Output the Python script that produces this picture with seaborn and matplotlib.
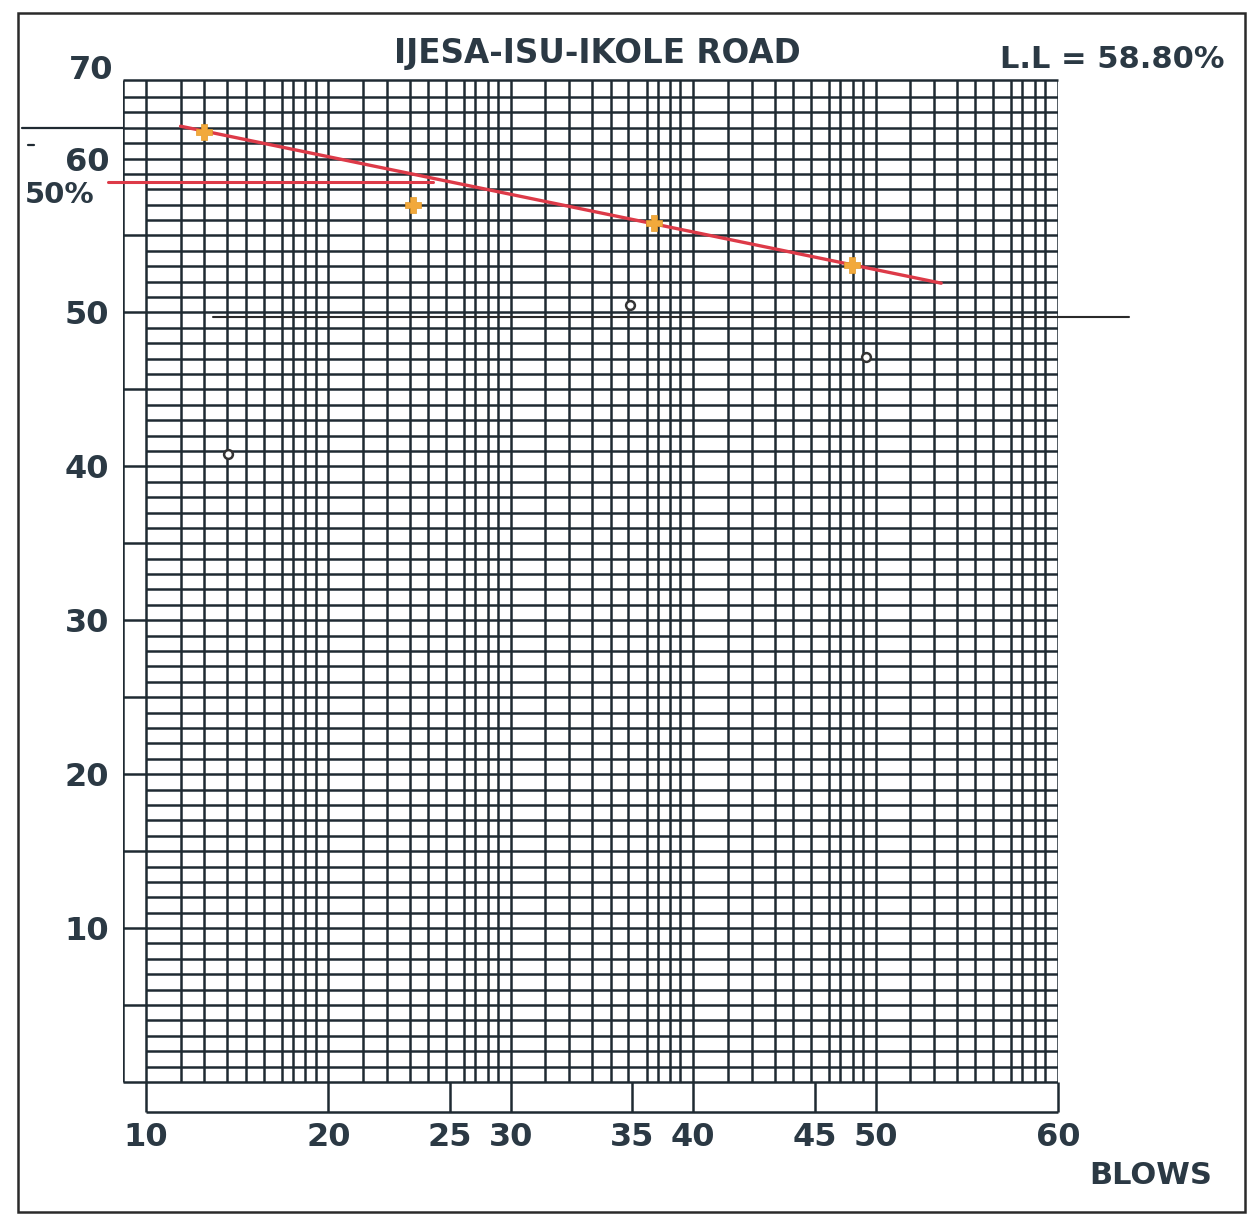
import numpy as np
import pandas as pd
import matplotlib
matplotlib.use("Agg")
import matplotlib.pyplot as plt
import seaborn as sns

# --- data ---
blow_ticks = [10, 20, 25, 30, 35, 40, 45, 50, 60]
moist_ticks = [10, 20, 30, 40, 50, 60]

trial_blows = [13.2, 23.5, 36.8, 48.1]          # orange trial points
trial_moist = [61.75, 57.0, 55.8, 53.1]
other_blows = [14.5, 34.9, 49.2]                # small dark points
other_moist = [40.8, 50.5, 47.1]

flow_blows = [11.9, 53.6]                        # red flow line
flow_moist = [62.1, 51.9]
ll_blows = [7.9, 24.3]                           # red L.L read-off line
ll_moist = [58.5, 58.5]
black_blows = [13.7, 63.9]                       # thin black line
black_moist = [49.7, 49.7]

title = "IJESA-ISU-IKOLE ROAD"
ll_text = "L.L = 58.80%"

# sheet scale: each 10-blow span is one cycle, 25/35/45 sit at 2/3 of a cycle
cycle_pos = [0, 1, 5 / 3, 2, 8 / 3, 3, 11 / 3, 4, 5]
cycle_lines = [0.19, 0.32, 0.447, 0.547, 0.645, 0.745, 0.805, 0.874, 0.93]


def fwd(x):
    x = np.asarray(x, dtype=float)
    y = np.interp(x, blow_ticks, cycle_pos)
    y = np.where(x < 10, (x - 10) * 0.1, y)
    y = np.where(x > 60, 5 + (x - 60) * 0.1, y)
    return y


def inv(p):
    p = np.asarray(p, dtype=float)
    x = np.interp(p, cycle_pos, blow_ticks)
    x = np.where(p < 0, 10 + p * 10, x)
    x = np.where(p > 5, 60 + (p - 5) * 10, x)
    return x


sns.set_theme(style="white")
plt.rcParams['font.family'] = ['DejaVu Sans']

ink = "#1f2a32"
txt = "#2b3944"
fs = 23
glw = 1.8

fig = plt.figure(figsize=(12.51, 12.16), dpi=100)
ax = fig.add_axes([0.0983, 0.0855, 0.7474, 0.8487])
ax.set_xscale("function", functions=(fwd, inv))

x_left = float(inv(-23 / 183))
y_top = 65.1
y_strip = -1.95
ax.set_xlim(x_left, 60)
ax.set_ylim(y_strip, y_top)
for s in ax.spines.values():
    s.set_visible(False)

# vertical rulings of the sheet
vx = [float(inv(c + f)) for c in range(5) for f in [0] + cycle_lines] + [60]
ax.vlines(vx, 0, y_top, color=ink, lw=glw, zorder=1)
ax.vlines([x_left], 0, y_top, color=ink, lw=glw, zorder=1)

# horizontal rulings, every 1 %
for w in range(0, 65):
    start = x_left if (w % 5 == 0 or w >= 59) else 10
    ax.hlines(w, start, 60, color=ink, lw=glw, zorder=1)
ax.hlines(y_top, x_left, 60, color=ink, lw=glw, zorder=1, clip_on=False)

# strip under the grid with tick separators
ax.hlines(y_strip, 10, 60, color=ink, lw=glw, clip_on=False)
ax.vlines(blow_ticks, y_strip, 0, color=ink, lw=glw, clip_on=False)

# marks
flow = pd.DataFrame({"blows": flow_blows, "moist": flow_moist})
sns.lineplot(data=flow, x="blows", y="moist", color="#dd3a48", lw=2.4, ax=ax, zorder=3)
ll_line = pd.DataFrame({"blows": ll_blows, "moist": ll_moist})
ax.plot(ll_line["blows"], ll_line["moist"], color="#dd3a48", lw=2.2, zorder=3, clip_on=False)
blk = pd.DataFrame({"blows": black_blows, "moist": black_moist})
ax.plot(blk["blows"], blk["moist"], color="#2a2a2a", lw=1.5, zorder=3, clip_on=False)

trials = pd.DataFrame({"blows": trial_blows, "moist": trial_moist})
sns.scatterplot(data=trials, x="blows", y="moist", marker="P", s=140,
                color="#f2a93b", edgecolor="#e39a2a", linewidth=0.5, ax=ax, zorder=4)
others = pd.DataFrame({"blows": other_blows, "moist": other_moist})
sns.scatterplot(data=others, x="blows", y="moist", marker="o", s=40,
                facecolor="white", edgecolor="#333333", linewidth=1.8, ax=ax, zorder=4)

# axes labels
ax.set_xticks(blow_ticks)
ax.set_xticklabels([str(b) for b in blow_ticks])
ax.set_yticks(moist_ticks)
ax.set_yticklabels([str(m) for m in moist_ticks])
ax.minorticks_off()
ax.tick_params(axis="x", length=0, pad=7, labelsize=fs, labelcolor=txt)
ax.tick_params(axis="y", length=0, pad=10, labelsize=fs, labelcolor=txt)
for lab in ax.get_xticklabels() + ax.get_yticklabels():
    lab.set_fontweight("heavy")
ax.set_xlabel("")
ax.set_ylabel("")

ytr = ax.get_yaxis_transform()
ax.text(-0.01, 65.75, "70", transform=ytr, ha="right", va="center",
        fontsize=fs, fontweight="heavy", color=txt, clip_on=False)
ax.text(-0.03, 57.6, "50%", transform=ytr, ha="right", va="center",
        fontsize=21, fontweight="heavy", color=txt, clip_on=False)
ax.plot([-0.108, 0], [62, 62], transform=ytr, color=ink, lw=1.6, clip_on=False)
ax.plot([-0.102, -0.095], [60.9, 60.9], transform=ytr, color=ink, lw=1.6, clip_on=False)

fig.text(597 / 1251, 1 - 54 / 1216, title, ha="center", va="center",
         fontsize=23.5, fontweight="heavy", color=txt)
fig.text(1225 / 1251, 1 - 60 / 1216, ll_text, ha="right", va="center",
         fontsize=22, fontweight="heavy", color=txt)
fig.text(1151 / 1251, 1 - 1176 / 1216, "BLOWS", ha="center", va="center",
         fontsize=22, fontweight="heavy", color=txt)

# outer border of the sheet
fig.add_artist(plt.Rectangle((18 / 1251, 1 - 1212 / 1216), (1245 - 18) / 1251, (1212 - 13) / 1216,
                             transform=fig.transFigure, fill=False, edgecolor="#2a2a2a", lw=1.8))

fig.savefig("out.png", dpi=100, facecolor="white")
